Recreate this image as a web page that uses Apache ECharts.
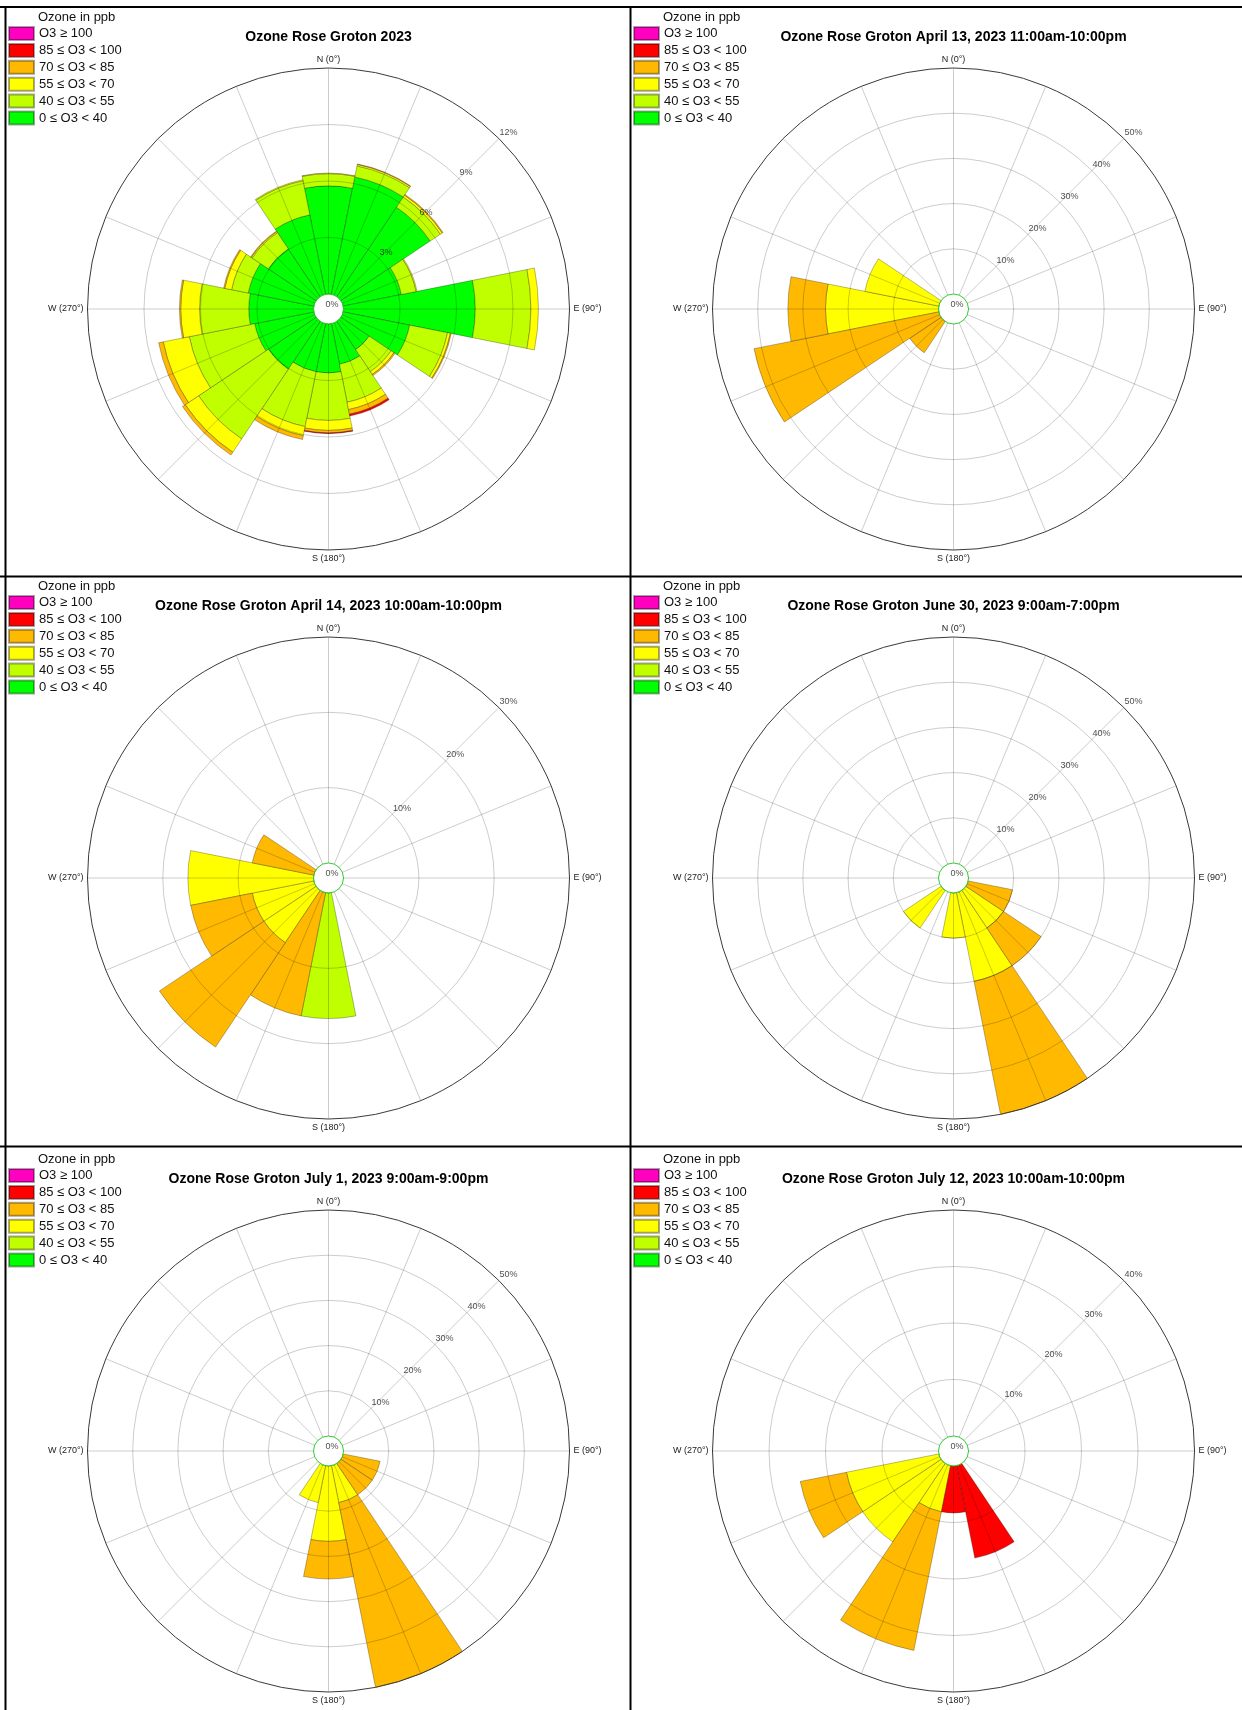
<!DOCTYPE html>
<html><head><meta charset="utf-8">
<script src="https://cdn.jsdelivr.net/npm/echarts@6.0.0/dist/echarts.min.js"></script>
<style>html,body{margin:0;padding:0;background:#fff}#c{width:1242px;height:1710px}</style>
</head><body><div id="c"></div>
<script>
// ---------- categories / labels ----------
const directions = ['N','NNE','NE','ENE','E','ESE','SE','SSE','S','SSW','SW','WSW','W','WNW','NW','NNW'];
const classNames = ['0 \u2264 O3 < 40','40 \u2264 O3 < 55','55 \u2264 O3 < 70','70 \u2264 O3 < 85','85 \u2264 O3 < 100','O3 \u2265 100'];
const classColors = ['#00FF00','#BFFF00','#FFFF00','#FFB900','#FF0000','#FF00C0'];
const panelTitles = [
  'Ozone Rose Groton 2023',
  'Ozone Rose Groton April 13, 2023 11:00am-10:00pm',
  'Ozone Rose Groton April 14, 2023 10:00am-10:00pm',
  'Ozone Rose Groton June 30, 2023 9:00am-7:00pm',
  'Ozone Rose Groton July 1, 2023 9:00am-9:00pm',
  'Ozone Rose Groton July 12, 2023 10:00am-10:00pm'
];
const compassLabels = {0:'N (0\u00b0)', 90:'E (90\u00b0)', 180:'S (180\u00b0)', 270:'W (270\u00b0)'};
const ticks2023 = [0,3,6,9,12];
const ticksApr13 = [0,10,20,30,40,50];
const ticksApr14 = [0,10,20,30];
const ticksJun30 = [0,10,20,30,40,50];
const ticksJul1 = [0,10,20,30,40,50];
const ticksJul12 = [0,10,20,30,40];

// ---------- frequencies (%) per direction, per ozone class ----------
// 2023 annual
const y2023_0_40   = [5.74,6.35,5.70,3.15,7.00,3.60,1.80,2.20,2.60,2.60,3.05,3.20,3.44,3.55,3.05,4.30];
const y2023_40_55  = [0.65,0.60,0.65,0.80,2.95,2.05,1.40,2.05,2.52,2.97,4.45,3.54,2.61,0.90,1.03,1.85];
const y2023_55_70  = [0.03,0.08,0.12,0.05,0.40,0.15,0.18,0.40,0.53,0.49,0.85,1.41,1.00,0.37,0.06,0.05];
const y2023_70_85  = [0,0.03,0.05,0,0,0.05,0.07,0.25,0.13,0.21,0.18,0.25,0.07,0.06,0.04,0];
const y2023_85_100 = [0,0,0,0,0,0,0,0.10,0.04,0,0,0,0,0,0,0];
const y2023_100    = [0,0,0,0,0,0,0,0,0,0,0,0,0,0,0,0];
// April 13
const apr13_0_40   = [0,0,0,0,0,0,0,0,0,0,0,0,0,0,0,0];
const apr13_40_55  = [0,0,0,0,0,0,0,0,0,0,0,0,0,0,0,0];
const apr13_55_70  = [0,0,0,0,0,0,0,0,0,0,0,0,25.00,16.67,0,0];
const apr13_70_85  = [0,0,0,0,0,0,0,0,0,0,8.33,41.67,8.33,0,0,0];
const apr13_85_100 = [0,0,0,0,0,0,0,0,0,0,0,0,0,0,0,0];
const apr13_100    = [0,0,0,0,0,0,0,0,0,0,0,0,0,0,0,0];
// April 14
const apr14_0_40   = [0,0,0,0,0,0,0,0,0,0,0,0,0,0,0,0];
const apr14_40_55  = [0,0,0,0,0,0,0,0,16.67,0,0,0,0,0,0,0];
const apr14_55_70  = [0,0,0,0,0,0,0,0,0,0,8.33,8.33,16.67,0,0,0];
const apr14_70_85  = [0,0,0,0,0,0,0,0,0,16.67,16.67,8.33,0,8.33,0,0];
const apr14_85_100 = [0,0,0,0,0,0,0,0,0,0,0,0,0,0,0,0];
const apr14_100    = [0,0,0,0,0,0,0,0,0,0,0,0,0,0,0,0];
// June 30
const jun30_0_40   = [0,0,0,0,0,0,0,0,0,0,0,0,0,0,0,0];
const jun30_40_55  = [0,0,0,0,0,0,0,0,0,0,0,0,0,0,0,0];
const jun30_55_70  = [0,0,0,0,0,0,10,20,10,0,10,0,0,0,0,0];
const jun30_70_85  = [0,0,0,0,0,10,10,30,0,0,0,0,0,0,0,0];
const jun30_85_100 = [0,0,0,0,0,0,0,0,0,0,0,0,0,0,0,0];
const jun30_100    = [0,0,0,0,0,0,0,0,0,0,0,0,0,0,0,0];
// July 1
const jul1_0_40    = [0,0,0,0,0,0,0,0,0,0,0,0,0,0,0,0];
const jul1_40_55   = [0,0,0,0,0,0,0,0,0,0,0,0,0,0,0,0];
const jul1_55_70   = [0,0,0,0,0,0,0,8.33,16.67,8.33,0,0,0,0,0,0];
const jul1_70_85   = [0,0,0,0,0,8.33,8.33,41.67,8.33,0,0,0,0,0,0,0];
const jul1_85_100  = [0,0,0,0,0,0,0,0,0,0,0,0,0,0,0,0];
const jul1_100     = [0,0,0,0,0,0,0,0,0,0,0,0,0,0,0,0];
// July 12
const jul12_0_40   = [0,0,0,0,0,0,0,0,0,0,0,0,0,0,0,0];
const jul12_40_55  = [0,0,0,0,0,0,0,0,0,0,0,0,0,0,0,0];
const jul12_55_70  = [0,0,0,0,0,0,0,0,0,8.33,16.67,16.67,0,0,0,0];
const jul12_70_85  = [0,0,0,0,0,0,0,0,0,25.00,0,8.33,0,0,0,0];
const jul12_85_100 = [0,0,0,0,0,0,0,16.67,8.33,0,0,0,0,0,0,0];
const jul12_100    = [0,0,0,0,0,0,0,0,0,0,0,0,0,0,0,0];

const panels = [
  {ticks: ticks2023, data: [y2023_0_40,y2023_40_55,y2023_55_70,y2023_70_85,y2023_85_100,y2023_100]},
  {ticks: ticksApr13, data: [apr13_0_40,apr13_40_55,apr13_55_70,apr13_70_85,apr13_85_100,apr13_100]},
  {ticks: ticksApr14, data: [apr14_0_40,apr14_40_55,apr14_55_70,apr14_70_85,apr14_85_100,apr14_100]},
  {ticks: ticksJun30, data: [jun30_0_40,jun30_40_55,jun30_55_70,jun30_70_85,jun30_85_100,jun30_100]},
  {ticks: ticksJul1, data: [jul1_0_40,jul1_40_55,jul1_55_70,jul1_70_85,jul1_85_100,jul1_100]},
  {ticks: ticksJul12, data: [jul12_0_40,jul12_40_55,jul12_55_70,jul12_70_85,jul12_85_100,jul12_100]}
];

// ---------- layout ----------
const FONT = "'Liberation Sans', Arial, Helvetica, sans-serif";
const colX = [328.5, 953.5];
const rowY = [309, 878, 1451];
const R_OUT = 241, R_IN = 15;
const GRID = 'rgba(0,0,0,0.2)';
const HOLE = '#2ccf2c';
const RIM = '#3a3a3a';

const option = {
  backgroundColor: '#fff', animation: false,
  title: [], legend: [], polar: [], angleAxis: [], radiusAxis: [], series: [], graphic: []
};

panels.forEach((p, k) => {
  const cx = colX[k % 2], cy = rowY[Math.floor(k / 2)];
  const dy = cy - rowY[0];
  const lx = (k % 2) ? 633 : 8;
  const maxV = p.ticks[p.ticks.length - 1];
  const step = p.ticks[1] - p.ticks[0];
  const pa = k, pb = k + 6;
  option.polar[pa] = {center: [cx, cy], radius: [R_IN, R_OUT]};
  option.polar[pb] = {center: [cx, cy], radius: [R_IN, R_OUT]};

  // data polar (category directions centred on compass points)
  option.angleAxis.push({polarIndex: pa, type: 'category', data: directions, boundaryGap: true,
    startAngle: 90 + 180 / directions.length, clockwise: true,
    axisLine: {show: false}, axisTick: {show: false}, axisLabel: {show: false},
    splitLine: {show: false}, splitArea: {show: false}});
  option.radiusAxis.push({polarIndex: pa, type: 'value', min: 0, max: maxV,
    axisLine: {show: false}, axisTick: {show: false}, axisLabel: {show: false},
    splitLine: {show: false}, splitArea: {show: false}});

  // grid polar drawn above the bars
  option.angleAxis.push({polarIndex: pb, type: 'value', min: 45, max: 405, interval: 22.5,
    startAngle: 45, clockwise: true, z: 5,
    axisLine: {show: false},
    axisTick: {show: false},
    axisLabel: {show: true, margin: 4, fontSize: 9, color: '#222', fontFamily: FONT,
      formatter: v => compassLabels[Math.round(v) % 360] || ''},
    splitLine: {show: true, lineStyle: {color: GRID, width: 1}},
    splitArea: {show: false}});
  const ringColors = p.ticks.map((t, i) => i === 0 ? HOLE : (i === p.ticks.length - 1 ? RIM : GRID));
  option.radiusAxis.push({polarIndex: pb, type: 'value', min: 0, max: maxV, interval: step, z: 5,
    axisLine: {show: false}, axisTick: {show: false}, axisLabel: {show: false},
    splitLine: {show: true, lineStyle: {color: ringColors, width: 1}},
    splitArea: {show: false}});

  classNames.forEach((name, c) => {
    option.series.push({
      type: 'bar', coordinateSystem: 'polar', polarIndex: pa, name: name, stack: 'rose' + k,
      barCategoryGap: '0%', silent: true, z: 2,
      data: p.data[c].map(v => v > 0 ? v : '-'),
      itemStyle: {color: classColors[c], borderColor: 'rgba(0,0,0,0.35)', borderWidth: 0.8}
    });
  });

  // radial tick labels along 45 degrees
  option.series.push({
    type: 'scatter', coordinateSystem: 'polar', polarIndex: pb, silent: true, z: 6,
    symbolSize: 1, itemStyle: {color: 'rgba(0,0,0,0)'},
    data: p.ticks.map(t => t === 0
      ? {value: [t, 45], label: {position: 'inside', offset: [-7, 6.5]}}
      : {value: [t, 45]}),
    label: {show: true, position: 'right', distance: 0, offset: [0, -6],
      formatter: d => d.value[0] + '%', fontSize: 9, color: '#222', fontFamily: FONT}
  });

  option.title.push({text: panelTitles[k], left: cx, top: 37 + dy, textAlign: 'center',
    textVerticalAlign: 'middle', padding: 0,
    textStyle: {fontSize: 14, fontWeight: 'bold', color: '#000', fontFamily: FONT}});
  option.title.push({text: 'Ozone in ppb', left: lx + 30, top: 17.5 + dy, textAlign: 'left',
    textVerticalAlign: 'middle', padding: 0,
    textStyle: {fontSize: 13, fontWeight: 'normal', color: '#111', fontFamily: FONT}});
  option.legend.push({orient: 'vertical', left: lx, top: 26 + dy, padding: 0,
    itemWidth: 25, itemHeight: 13, itemGap: 1.9, icon: 'rect', selectedMode: false,
    data: classNames.slice().reverse(),
    textStyle: {fontSize: 13, lineHeight: 13, color: '#111', fontFamily: FONT}});
});

// panel borders
const BL = {stroke: '#000', lineWidth: 2};
option.graphic = [
  {type: 'line', shape: {x1: 0, y1: 7, x2: 1242, y2: 7}, style: BL, silent: true},
  {type: 'line', shape: {x1: 5.5, y1: 6, x2: 5.5, y2: 1710}, style: BL, silent: true},
  {type: 'line', shape: {x1: 630.5, y1: 6, x2: 630.5, y2: 1710}, style: BL, silent: true},
  {type: 'line', shape: {x1: 0, y1: 576.5, x2: 1242, y2: 576.5}, style: BL, silent: true},
  {type: 'line', shape: {x1: 0, y1: 1146.5, x2: 1242, y2: 1146.5}, style: BL, silent: true}
];

const chart = echarts.init(document.getElementById('c'), null, {renderer: 'canvas'});
chart.setOption(option);
</script>
</body></html>
